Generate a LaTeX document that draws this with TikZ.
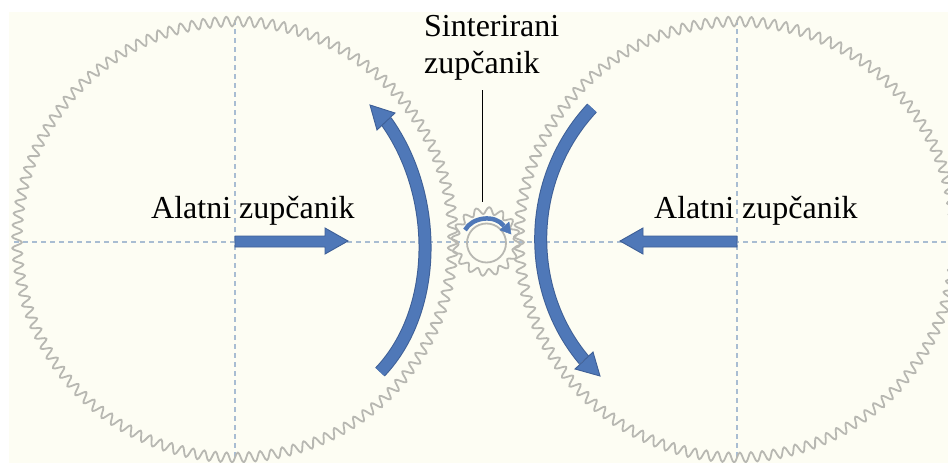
\documentclass[tikz,border=0pt]{standalone}
\usepackage{fontspec}
\setmainfont{Liberation Serif}
\definecolor{cream}{HTML}{FDFDF3}
\definecolor{geargray}{HTML}{B8B8B2}
\definecolor{axisblue}{HTML}{A9BDD2}
\definecolor{arrowfill}{HTML}{4F78B8}
\definecolor{arrowedge}{HTML}{3E5F96}
\tikzset{
  gearline/.style={draw=geargray,line width=1.8pt,line join=round},
  axisline/.style={draw=axisblue,line width=2pt,dash pattern=on 4.5pt off 4.5pt},
  shaft/.style={draw=arrowedge,line width=13pt},
  shaftin/.style={draw=arrowfill,line width=11pt},
  tiphead/.style={fill=arrowfill,draw=arrowedge,line width=0.9pt,line join=miter},
  lbl/.style={font=\fontsize{32}{37}\selectfont,inner sep=0pt,text=black},
  leader/.style={draw=black,line width=1pt}
}
% #1 cx, #2 cy, #3 radius, #4 amplitude, #5 teeth
\newcommand{\geartrace}[5]{%
  \draw[gearline] plot[smooth,domain=0:#5,samples=\the\numexpr #5*8+1\relax,variable=\t]
    ({#1+(#3+#4*sin(360*mod(\t,1)))*cos(\t/#5*360)},{#2+(#3+#4*sin(360*mod(\t,1)))*sin(\t/#5*360)});
}
\begin{document}
\begin{tikzpicture}[x=1pt,y=-1pt]
\useasboundingbox (0,0) rectangle (948,463);
\clip (0,0) rectangle (948,463);
\fill[white] (0,0) rectangle (948,463);
\fill[cream] (9,12) rectangle (948,463);
% axes
\draw[axisline] (14,241.5) -- (948,241.5);
\draw[axisline] (234.5,20) -- (234.5,458);
\draw[axisline] (737,20) -- (737,458);
% gears
\geartrace{235}{239.5}{218}{5}{120}
\geartrace{737}{239.5}{218}{5}{120}
\geartrace{486}{241.5}{31}{3.5}{16}
\draw[gearline] (486.5,243) circle (19.5);
% big curved arrows
\draw[shaft] (380,372) .. controls (439,310) and (439,195) .. (386,121);
\draw[shaftin] (380,372) .. controls (439,310) and (439,195) .. (386,121);
\draw[tiphead] (370,105) -- (395,113) -- (377,130) -- cycle;
\draw[shaft] (592,108) .. controls (525,180) and (525,290) .. (584,360);
\draw[shaftin] (592,108) .. controls (525,180) and (525,290) .. (584,360);
\draw[tiphead] (600,376) -- (593,352) -- (575,369) -- cycle;
% straight arrows
\draw[tiphead] (235,236) -- (325,236) -- (325,228) -- (348,241) -- (325,254) -- (325,247) -- (235,247) -- cycle;
\draw[tiphead] (737,236) -- (643,236) -- (643,228) -- (620,241) -- (643,254) -- (643,247) -- (737,247) -- cycle;
% small arrow
\draw[draw=arrowfill,line width=4.5pt] (465,230) .. controls (472,217) and (495,214) .. (504,226);
\draw[fill=arrowfill,draw=arrowfill,line width=0.5pt] (500,230) -- (509,222) -- (511,234) -- cycle;
% labels
\node[lbl,anchor=west] (left) at (151,210.5) {Alatni zupčanik};
\node[lbl,anchor=west] (right) at (654,210.5) {Alatni zupčanik};
\node[lbl,align=left,anchor=north west] (sint) at (424,15) {Sinterirani\\zupčanik};
\coordinate (gtop) at (482,202);
\draw[leader] (482,90) -- (gtop);
\end{tikzpicture}
\end{document}
